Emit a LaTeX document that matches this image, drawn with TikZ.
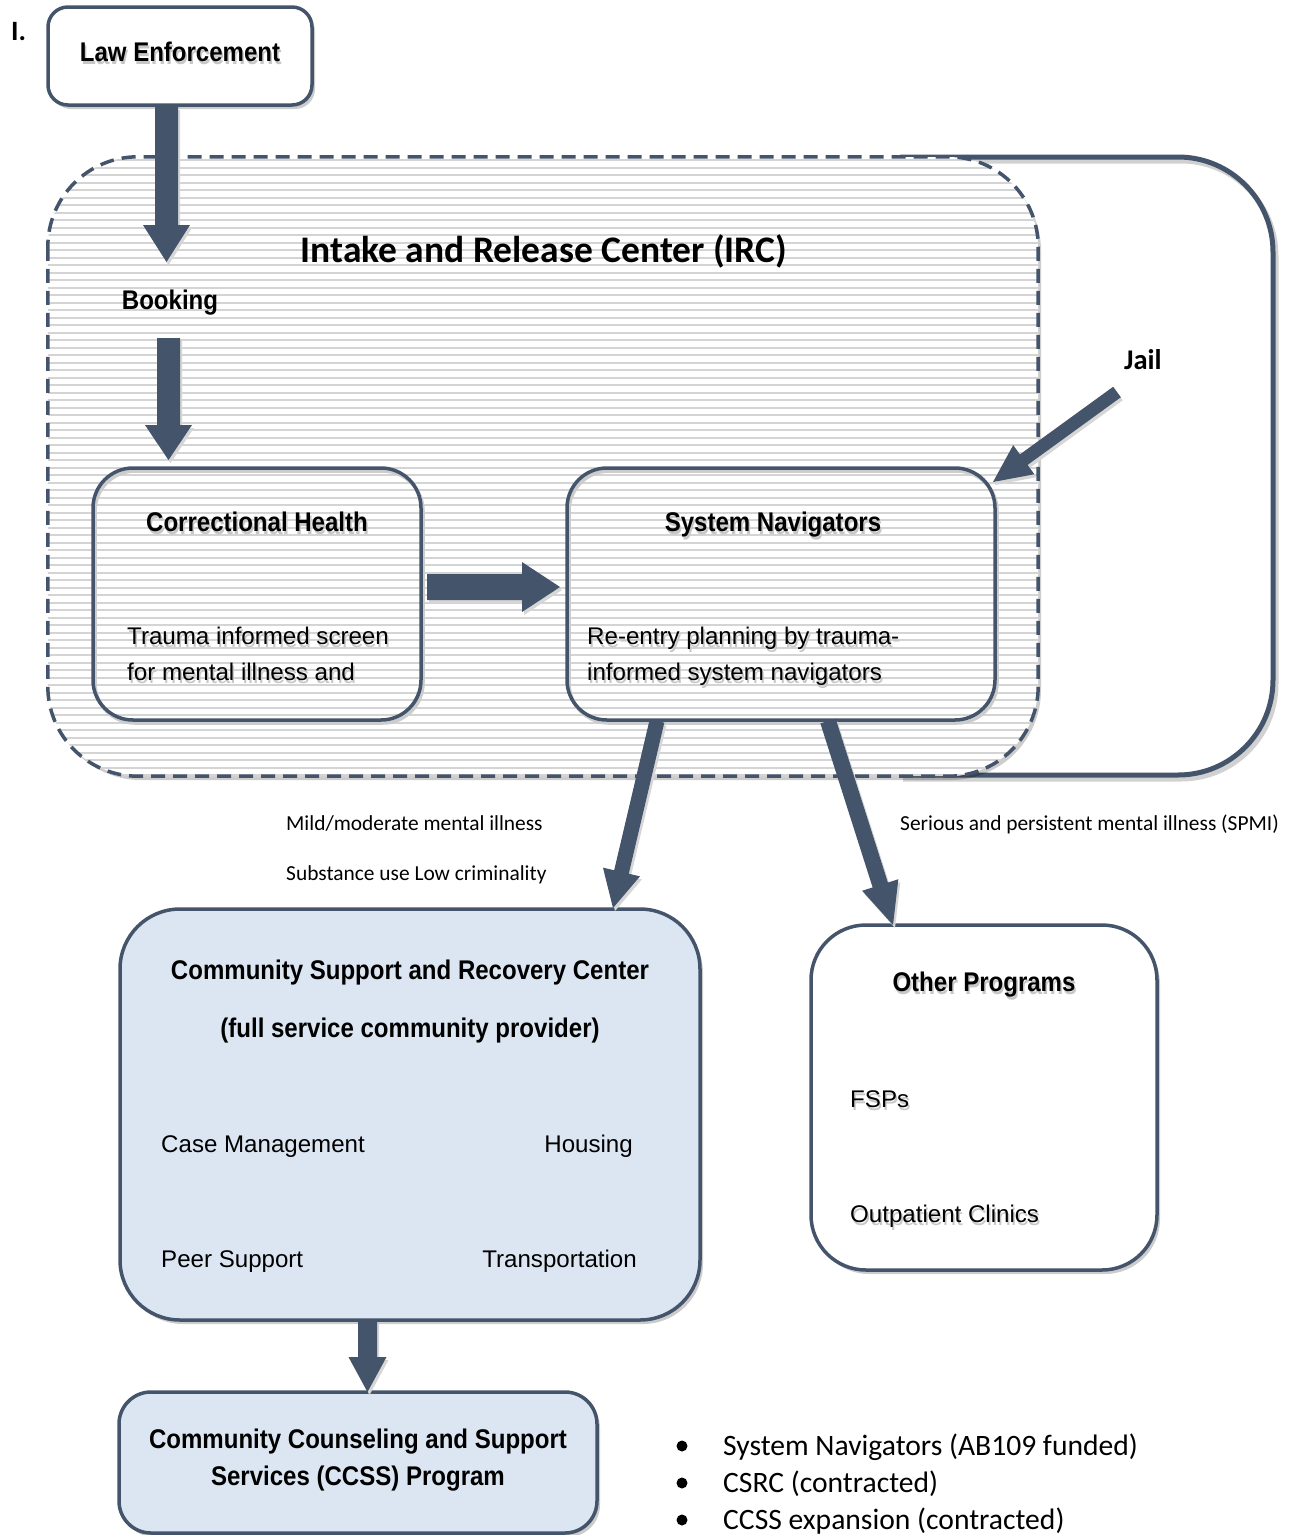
\documentclass[tikz,border=0pt]{standalone}
\usepackage{fontspec}
\setmainfont{Carlito}
\newfontfamily\arialf{Liberation Sans}
\newfontfamily\arialn[FakeStretch=0.89]{Liberation Sans}
\usetikzlibrary{calc,shadows}
\definecolor{navy}{HTML}{44546A}
\definecolor{lblue}{HTML}{DCE6F2}
\definecolor{hatchc}{HTML}{D4D4D4}
\newcommand\shd[1]{\leavevmode\rlap{\hspace{1.5pt}\raisebox{-3pt}[0pt][0pt]{\color{black!22}#1}}#1}
\newcommand\arrowpoly[6]{%
  \coordinate (hb) at ($(#3)!#6!(#2)$);
  \fill[#1] ($(#2)!#4!90:(#3)$) -- ($(hb)!#4!-90:(#2)$) -- ($(hb)!#5!-90:(#2)$) -- (#3)
    -- ($(hb)!#5!90:(#2)$) -- ($(hb)!#4!90:(#2)$) -- ($(#2)!#4!-90:(#3)$) -- cycle;}
\newcommand\blockarrow[5]{%
  \arrowpoly{black!16,transform canvas={shift={(2pt,-3pt)}}}{#1}{#2}{#3}{#4}{#5}%
  \arrowpoly{navy}{#1}{#2}{#3}{#4}{#5}}
\tikzset{
  ttl/.style={font=\arialn\bfseries\fontsize{27}{32}\selectfont, inner sep=0pt, anchor=base},
  body/.style={font=\arialf\fontsize{24.1}{30}\selectfont, inner sep=0pt, anchor=base west},
  lbl/.style={font=\fontsize{21.4}{25}\selectfont, inner sep=0pt, anchor=base west},
  bul/.style={font=\fontsize{29.6}{35}\selectfont, inner sep=0pt, anchor=base west},
  rbox/.style={draw=navy, line width=3.5pt, rounded corners=#1, inner sep=0pt},
  fshadow/.style={drop shadow={shadow xshift=3pt, shadow yshift=-4pt, fill=black, opacity=0.2}},
  sshadow/.style={draw=black!20, line width=3.5pt, rounded corners=#1}
}
\begin{document}
\begin{tikzpicture}[x=1pt,y=-1pt]
\useasboundingbox[fill=white] (0,0) rectangle (1293,1535);

% outer solid frame
\draw[black!18, line width=5pt, rounded corners=95pt, transform canvas={shift={(3pt,-4pt)}}] (900,157) -- (1273,157) -- (1273,775) -- (900,775);
\draw[navy, line width=5pt, rounded corners=95pt] (900,157) -- (1273,157) -- (1273,775) -- (900,775);

% IRC region
\node[fill=white, rounded corners=90pt, minimum width=990pt, minimum height=619pt, inner sep=0pt, fshadow] (irc) at (543,466.5) {};
\begin{scope}
  \clip[rounded corners=90pt] (irc.north west) rectangle (irc.south east);
  \foreach \yy in {160,167.5,...,780} \draw[hatchc, line width=2pt] (40,\yy) -- (1050,\yy);
\end{scope}
\draw[navy, line width=3.5pt, dash pattern=on 14pt off 8pt, rounded corners=90pt] (irc.north west) rectangle (irc.south east);

\node[font=\bfseries\fontsize{37.5}{42}\selectfont, inner sep=0pt, anchor=base] (irct) at (544,262) {Intake and Release Center (IRC)};

% Law enforcement
\node[bul, font=\bfseries\fontsize{28}{32}\selectfont] (roman) at (11,40) {I.};
\node[rbox=20pt, fill=white, minimum width=264pt, minimum height=98pt, fshadow] (le) at (180,56) {};
\node[ttl] (let) at (180,61) {\shd{Law Enforcement}};

\node[ttl] (book) at (170,309) {Booking};

% Correctional Health
\draw[sshadow=40pt] (95,471) rectangle (423,723);
\node[rbox=40pt, minimum width=328pt, minimum height=252pt] (ch) at (257,594) {};
\node[ttl] (cht) at (257,531) {\shd{Correctional Health}};
\node[body] (ch1) at (127,644) {\shd{Trauma informed screen}};
\node[body] (ch2) at (127,680) {\shd{for mental illness and}};

% System Navigators
\draw[sshadow=40pt] (569,471) rectangle (997,723);
\node[rbox=40pt, minimum width=428pt, minimum height=252pt] (sn) at (781,594) {};
\node[ttl] (snt) at (773,531) {\shd{System Navigators}};
\node[body] (sn1) at (587,644) {\shd{Re-entry planning by trauma-}};
\node[body] (sn2) at (587,680) {\shd{informed system navigators}};

\node[font=\bfseries\fontsize{28.5}{32}\selectfont, inner sep=0pt, anchor=base west] (jail) at (1124,369) {Jail};

% CSRC
\node[rbox=60pt, fill=lblue, minimum width=580pt, minimum height=411pt, fshadow] (csrc) at (410,1114.5) {};
\node[ttl] (cs1) at (410,979) {Community Support and Recovery Center};
\node[ttl] (cs2) at (410,1037) {(full service community provider)};
\node[body] (cm) at (161,1152) {Case Management};
\node[body, anchor=base east] (hs) at (633,1152) {Housing};
\node[body] (ps) at (161,1267) {Peer Support};
\node[body, anchor=base east] (tr) at (637,1267) {Transportation};

% Other Programs
\node[rbox=55pt, fill=white, minimum width=346pt, minimum height=345pt, fshadow] (op) at (984,1097.5) {};
\node[ttl] (opt) at (984,991) {\shd{Other Programs}};
\node[body] (fsp) at (850,1107) {\shd{FSPs}};
\node[body] (oc) at (850,1222) {\shd{Outpatient Clinics}};

% CCSS
\node[rbox=32pt, fill=lblue, minimum width=478pt, minimum height=141pt, fshadow] (ccss) at (358,1462.5) {};
\node[ttl] (cc1) at (358,1448) {Community Counseling and Support};
\node[ttl] (cc2) at (358,1485) {Services (CCSS) Program};

% labels
\node[lbl] (l1) at (286,830) {Mild/moderate mental illness};
\node[lbl] (l2) at (286,880) {Substance use Low criminality};
\node[lbl] (l3) at (900,830) {Serious and persistent mental illness (SPMI)};

% bullets
\foreach \yy/\tx [count=\i] in {1455/System Navigators (AB109 funded), 1492/CSRC (contracted), 1529/CCSS expansion (contracted)} {
  \fill (682,\yy-9) circle (5.5pt);
  \node[bul] (b\i) at (723,\yy) {\tx};
}

% arrows
\coordinate (a1s) at (166.5,107);  \coordinate (a1e) at (166.5,262);
\coordinate (a2s) at (168.5,338);  \coordinate (a2e) at (168.5,460);
\coordinate (a3s) at (427,587);    \coordinate (a3e) at (560,587);
\coordinate (a4s) at (1117,392);   \coordinate (a4e) at (993,482);
\coordinate (a5s) at (657,721);    \coordinate (a5e) at (613,908);
\coordinate (a6s) at (828,721);    \coordinate (a6e) at (893,925);
\coordinate (a7s) at (367.5,1321); \coordinate (a7e) at (367.5,1392);
\blockarrow{a1s}{a1e}{11.5pt}{23.5pt}{37pt}
\blockarrow{a2s}{a2e}{11.5pt}{23.5pt}{35pt}
\blockarrow{a3s}{a3e}{13pt}{25pt}{38pt}
\blockarrow{a4s}{a4e}{6.5pt}{18pt}{38pt}
\blockarrow{a5s}{a5e}{7.5pt}{19pt}{37pt}
\blockarrow{a6s}{a6e}{8pt}{19pt}{42pt}
\blockarrow{a7s}{a7e}{9.5pt}{19pt}{35pt}
\end{tikzpicture}
\end{document}
